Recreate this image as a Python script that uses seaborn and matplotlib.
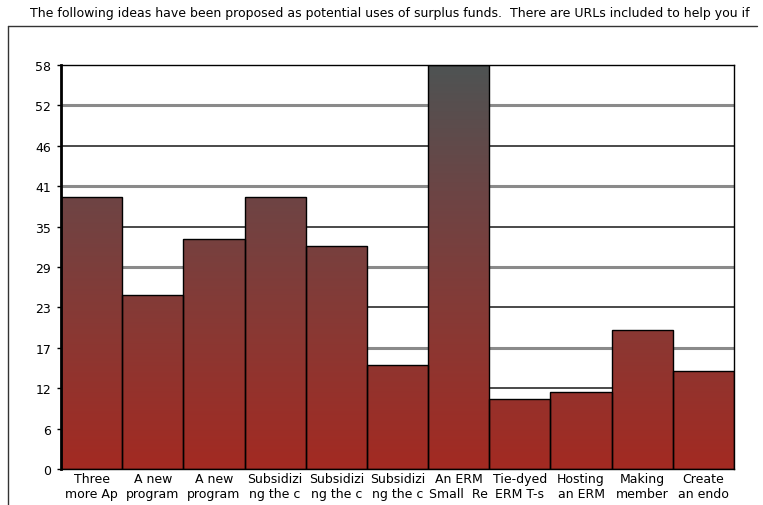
"""Surplus funds survey bar chart."""

import matplotlib.pyplot as plt
import numpy as np
import pandas as pd
import seaborn as sns
from matplotlib.colors import LinearSegmentedColormap
from matplotlib.lines import Line2D

labels = [
    "Three\nmore Ap",
    "A new\nprogram",
    "A new\nprogram",
    "Subsidizi\nng the c",
    "Subsidizi\nng the c",
    "Subsidizi\nng the c",
    "An ERM\nSmall  Re",
    "Tie-dyed\nERM T-s",
    "Hosting\nan ERM",
    "Making\nmember",
    "Create\nan endo",
]
counts = [39, 25, 33, 39, 32, 15, 58, 10, 11, 20, 14]
y_max = 58
tick_values = [y_max * i / 10 for i in range(11)]
tick_labels = [f"{round(v):d}" for v in tick_values]

title = (
    "The following ideas have been proposed as potential uses of surplus "
    "funds.  There are URLs included to help you if"
)

df = pd.DataFrame({"idea": range(len(counts)), "count": counts})

sns.set_style("white")
plt.rcParams["font.family"] = ["DejaVu Sans"]
plt.rcParams["text.color"] = "black"
plt.rcParams["xtick.color"] = "black"
plt.rcParams["ytick.color"] = "black"

fig = plt.figure(figsize=(7.63, 5.06), dpi=100)
ax = fig.add_axes([61 / 763, 36 / 506, 673 / 763, 404 / 506])

sns.barplot(
    data=df, x="idea", y="count", ax=ax, width=1.0,
    facecolor="none", edgecolor="black", linewidth=1.0, zorder=3,
)

# gradient fill: red at the bottom, dark grey at the top of the axis
cmap = LinearSegmentedColormap.from_list(
    "bars", ["#a32a22", "#8a3833", "#6e4444", "#4e5353"]
)
grad = np.linspace(0, 1, 256).reshape(-1, 1)
for patch in ax.patches:
    im = ax.imshow(
        grad, cmap=cmap, aspect="auto", origin="lower",
        extent=(-0.5, len(counts) - 0.5, 0, y_max), zorder=2,
    )
    im.set_clip_path(patch)

# alternating grid lines
for i, v in enumerate(tick_values[1:-1]):
    if i % 2 == 0:
        ax.axhline(v, color="#8a8a8a", lw=2.2, zorder=1)
    else:
        ax.axhline(v, color="#2a2a2a", lw=1.2, zorder=1)

ax.set_xlim(-0.5, len(counts) - 0.5)
ax.set_ylim(0, y_max)
ax.set_yticks(tick_values)
ax.set_yticklabels(tick_labels, fontsize=9)
ax.set_xticks(range(len(counts)))
ax.set_xticklabels(labels, fontsize=9, linespacing=1.2)
ax.set_xticks(np.arange(-0.5, len(counts)), minor=True)
ax.tick_params(axis="x", which="major", length=0, pad=2)
ax.tick_params(axis="x", which="minor", length=3, width=1, color="black")
ax.tick_params(axis="y", length=3, width=1, color="black", pad=4, left=True)
ax.set_xlabel("")
ax.set_ylabel("")

for side in ["top", "right", "bottom"]:
    ax.spines[side].set_color("black")
    ax.spines[side].set_linewidth(1)
ax.spines["left"].set_color("black")
ax.spines["left"].set_linewidth(2)

# outer frame (top and left edges) and title
fig.add_artist(Line2D([8 / 763, 757 / 763], [1 - 27 / 506] * 2,
                      color="#333333", lw=1))
fig.add_artist(Line2D([8 / 763] * 2, [0, 1 - 27 / 506],
                      color="#333333", lw=1))
fig.text(390 / 763, 1 - 14 / 506, title, ha="center", va="center",
         fontsize=9, color="black")

fig.savefig("out.png", dpi=100)
